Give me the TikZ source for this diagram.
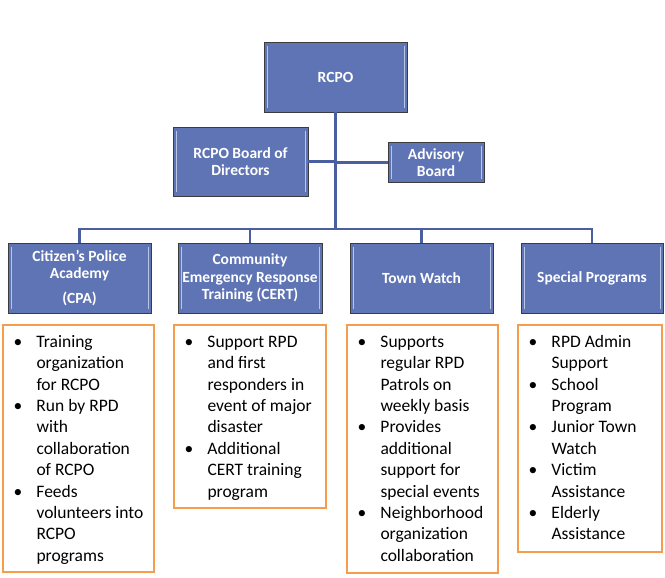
\documentclass[tikz,border=0pt]{standalone}
\usepackage{fontspec}
\setmainfont{Carlito}
\usepackage{xcolor}
\usetikzlibrary{positioning, calc}
\definecolor{rblue}{HTML}{5F74B4}
\definecolor{rshine}{HTML}{BAC6E8}
\definecolor{rborder}{HTML}{3C3C3C}
\definecolor{rline}{HTML}{4A5FA0}
\definecolor{rorange}{HTML}{F59D4C}

\begin{document}
\begin{tikzpicture}[x=1pt, y=-1pt,
  unit/.style={draw=rborder, line width=0.8pt, fill=rblue, text=white, align=center,
    font=\fontsize{15.5}{17.5}\selectfont\bfseries, inner sep=0pt,
    path picture={
      \draw[rshine, line width=1pt]
        ([xshift=3pt,yshift=-4pt]path picture bounding box.north west) --
        ([xshift=3pt,yshift=4pt]path picture bounding box.south west);
      \draw[rshine, line width=1pt]
        ([xshift=-3pt,yshift=-4pt]path picture bounding box.north east) --
        ([xshift=-3pt,yshift=4pt]path picture bounding box.south east);}},
  link/.style={draw=rline, line width=2.4pt},
  notes/.style={draw=rorange, line width=1.4pt, inner sep=0pt},
  bullets/.style={anchor=base west, inner sep=0pt, align=left,
    font=\fontsize{17.5}{21.4}\selectfont}]
\useasboundingbox (0,0) rectangle (665,578);
% top of the chart
\node[unit, minimum width=143pt, minimum height=70pt] (rcpo) at (335.5,77) {RCPO};
\node[unit, minimum width=135pt, minimum height=69pt] (board) at (240.5,161.5) {RCPO Board of\\Directors};
\node[unit, minimum width=96pt, minimum height=40pt] (advisory) at (436,162.5) {Advisory\\Board};
% programs row
\node[unit, minimum width=143pt, minimum height=70pt] (cpa) at (79.5,278) {Citizen's Police\\Academy\\[7pt](CPA)};
\node[unit, minimum width=144pt, minimum height=70pt] (cert) at (250,278) {Community\\Emergency Response\\Training (CERT)};
\node[unit, minimum width=143pt, minimum height=70pt] (town) at (421.5,278) {Town Watch};
\node[unit, minimum width=142pt, minimum height=70pt] (special) at (592,278) {Special Programs};
\coordinate (bus) at (0,229);
% connectors
\draw[link] (rcpo.south) -- (rcpo.south |- bus);
\draw[link] (board.east) -- (board.east -| rcpo.south);
\draw[link] (advisory.west) -- (advisory.west -| rcpo.south);
\draw[link] (cpa.north) -- (cpa.north |- bus) -- (special.north |- bus) -- (special.north);
\foreach \p in {cert, town}
  \draw[link] (\p.north) -- (\p.north |- bus);
% orange note boxes
\node[notes, minimum width=151pt, minimum height=247pt] (cpanotes) at (78.5,448.5) {};
\node[notes, minimum width=152pt, minimum height=183pt] (certnotes) at (250,416.5) {};
\node[notes, minimum width=151pt, minimum height=248pt] (townnotes) at (422.5,449) {};
\node[notes, minimum width=144pt, minimum height=227pt] (specialnotes) at (590,438.5) {};
\node[bullets] (cpalist) at ($(cpanotes.north west)+(11,23)$) {%
  \begin{tabular}[t]{@{}p{23pt}@{}l@{}}
  • & Training\\ & organization\\ & for RCPO\\
  • & Run by RPD\\ & with\\ & collaboration\\ & of RCPO\\
  • & Feeds\\ & volunteers into\\ & RCPO\\ & programs
  \end{tabular}};
\node[bullets] (certlist) at ($(certnotes.north west)+(11,23)$) {%
  \begin{tabular}[t]{@{}p{23pt}@{}l@{}}
  • & Support RPD\\ & and first\\ & responders in\\ & event of major\\ & disaster\\
  • & Additional\\ & CERT training\\ & program
  \end{tabular}};
\node[bullets] (townlist) at ($(townnotes.north west)+(11,23)$) {%
  \begin{tabular}[t]{@{}p{23pt}@{}l@{}}
  • & Supports\\ & regular RPD\\ & Patrols on\\ & weekly basis\\
  • & Provides\\ & additional\\ & support for\\ & special events\\
  • & Neighborhood\\ & organization\\ & collaboration
  \end{tabular}};
\node[bullets] (speciallist) at ($(specialnotes.north west)+(11,23)$) {%
  \begin{tabular}[t]{@{}p{23pt}@{}l@{}}
  • & RPD Admin\\ & Support\\
  • & School\\ & Program\\
  • & Junior Town\\ & Watch\\
  • & Victim\\ & Assistance\\
  • & Elderly\\ & Assistance
  \end{tabular}};
\end{tikzpicture}
\end{document}
